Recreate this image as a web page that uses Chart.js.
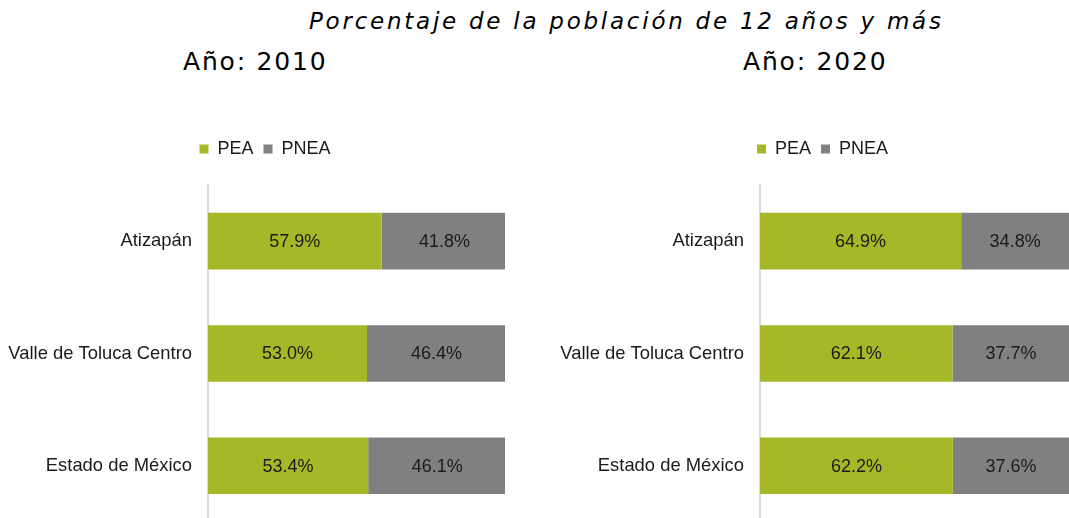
<!DOCTYPE html>
<html><head><meta charset="utf-8">
<script src="https://cdn.jsdelivr.net/npm/chart.js@4/dist/chart.umd.min.js"></script>
<style>
html,body{margin:0;padding:0;width:1069px;height:518px;overflow:hidden;background:#fff;}
#title{position:absolute;left:309px;top:9px;font-style:italic;font-size:23px;line-height:24px;font-family:"DejaVu Sans";letter-spacing:2.75px;color:#000;white-space:nowrap;}
.year{position:absolute;top:49px;font-size:25px;line-height:26px;font-family:"DejaVu Sans";color:#000;white-space:nowrap;letter-spacing:1.8px;}
canvas{position:absolute;}
</style></head>
<body>
<div id="title"></div>
<div class="year" id="y1" style="left:183px"></div>
<div class="year" id="y2" style="left:743px"></div>
<canvas id="c1" width="505" height="419" style="left:0;top:130px;width:505px;height:419px"></canvas>
<canvas id="c2" width="525" height="419" style="left:545px;top:130px;width:525px;height:419px"></canvas>
<script>
const mainTitle = 'Porcentaje de la población de 12 años y más';
const yearTitles = ['Año: 2010', 'Año: 2020'];
const categories = ['Atizapán', 'Valle de Toluca Centro', 'Estado de México'];
const seriesNames = ['PEA', 'PNEA'];
const pea2010 = [57.9, 53.0, 53.4];
const pnea2010 = [41.8, 46.4, 46.1];
const pea2020 = [64.9, 62.1, 62.2];
const pnea2020 = [34.8, 37.7, 37.6];

document.getElementById('title').textContent = mainTitle;
document.getElementById('y1').textContent = yearTitles[0];
document.getElementById('y2').textContent = yearTitles[1];

const GREEN = '#A6B828';
const GREY = '#808080';
const FONT = '"Liberation Sans", Arial, sans-serif';

const valueLabels = {
  id: 'valueLabels',
  afterDatasetsDraw(chart) {
    const ctx = chart.ctx;
    ctx.save();
    ctx.font = '18px ' + FONT;
    ctx.fillStyle = '#1a1a1a';
    ctx.textAlign = 'center';
    ctx.textBaseline = 'middle';
    chart.data.datasets.forEach((ds, i) => {
      const meta = chart.getDatasetMeta(i);
      meta.data.forEach((bar, j) => {
        const p = bar.getProps(['x', 'y', 'base'], true);
        ctx.fillText(ds.data[j].toFixed(1) + '%', (p.x + p.base) / 2, p.y + 1);
      });
    });
    ctx.restore();
  }
};
function legendTweak(shift) {
  return {
    id: 'legendTweak',
    beforeInit(chart) {
      const fit = chart.legend.fit;
      chart.legend.fit = function () { fit.call(this); this.height += 17; };
    },
    afterLayout(chart) {
      chart.legend.left += shift;
      chart.legend.right += shift;
    }
  };
}

function makeChart(id, pea, pnea, xmax, axisWidth, legendShift) {
  return new Chart(document.getElementById(id), {
    type: 'bar',
    data: {
      labels: categories,
      datasets: [
        { label: seriesNames[0], data: pea, backgroundColor: GREEN, borderWidth: 0 },
        { label: seriesNames[1], data: pnea, backgroundColor: GREY, borderWidth: 0 }
      ]
    },
    options: {
      indexAxis: 'y',
      responsive: false,
      animation: false,
      events: [],
      barPercentage: 0.504,
      categoryPercentage: 1,
      layout: { padding: 0 },
      plugins: {
        tooltip: { enabled: false },
        legend: {
          position: 'top',
          align: 'center',
          labels: {
            boxWidth: 9, boxHeight: 9, padding: 10,
            color: '#1a1a1a',
            font: { size: 18, family: FONT }
          }
        }
      },
      scales: {
        x: { stacked: true, display: false, min: 0, max: xmax },
        y: {
          stacked: true,
          grid: { display: false, drawTicks: false },
          border: { display: true, color: '#D9D9D9', width: 2 },
          ticks: { color: '#1a1a1a', padding: 16, font: { size: 18.4, family: FONT } },
          afterFit(scale) { scale.width = axisWidth; }
        }
      }
    },
    plugins: [legendTweak(legendShift), valueLabels]
  });
}

makeChart('c1', pea2010, pnea2010, 99, 208, 12.5);
makeChart('c2', pea2020, pnea2020, 100, 215, 15);
</script>
</body></html>
